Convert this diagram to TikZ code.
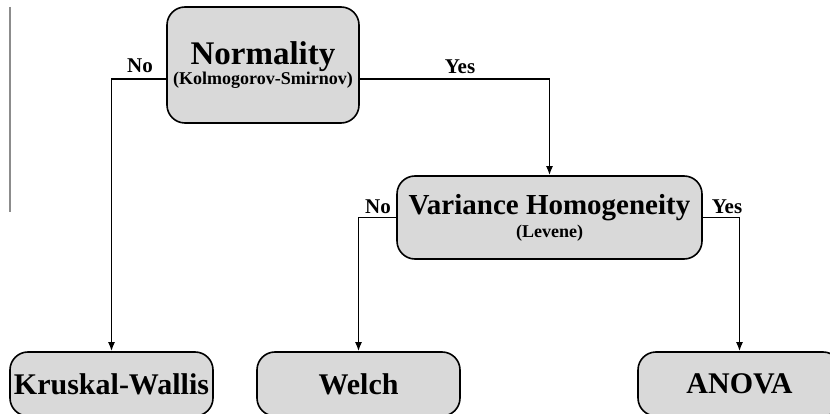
\documentclass[tikz,border=0pt]{standalone}
\usepackage{fontspec}
\setmainfont{Liberation Serif}
\usetikzlibrary{positioning,arrows.meta}

\begin{document}
\begin{tikzpicture}[
x=1pt, y=-1pt,
>={Latex[length=9pt,width=7pt]},
test/.style={draw, line width=1.6pt, rounded corners=18pt, fill=black!15, align=center, font=\bfseries, inner sep=0pt},
result/.style={test, minimum width=203pt, minimum height=64pt, font=\bfseries\fontsize{30}{32}\selectfont},
answer/.style={font=\bfseries\fontsize{21}{23}\selectfont, inner sep=0pt},
link/.style={->, line width=1.6pt}
]
\useasboundingbox (0,0) rectangle (830,414);
\clip (0,0) rectangle (830,414);
\draw[black!45, line width=2pt] (10,7) -- (10,212);
% tests
\node[test, minimum width=192pt, minimum height=116pt] (norm) at (263,65)
  {{\fontsize{33}{35}\selectfont Normality}\\[0pt]{\fontsize{18}{20}\selectfont (Kolmogorov-Smirnov)}};
\node[test, minimum width=305pt, minimum height=83pt] (vh) at (549.5,217.5)
  {{\fontsize{29}{31}\selectfont Variance Homogeneity}\\[3pt]{\fontsize{18}{20}\selectfont (Levene)}};
% outcomes
\node[result] (kw) at (111.5,384) {Kruskal-Wallis};
\node[result] (welch) at (358.5,384) {Welch};
\node[result] (anova) at (739.5,384) {ANOVA};
\draw[link] ([yshift=-14pt]norm.west) -| (kw.north);
\draw[link] ([yshift=-14pt]norm.east) -| (vh.north);
\draw[link] (vh.west) -| (welch.north);
\draw[link] (vh.east) -| (anova.north);
\node[answer] (normno) at (140,66) {No};
\node[answer] (normyes) at (460,67) {Yes};
\node[answer] (vhno) at (378,207) {No};
\node[answer] (vhyes) at (727,207) {Yes};
\end{tikzpicture}
\end{document}
